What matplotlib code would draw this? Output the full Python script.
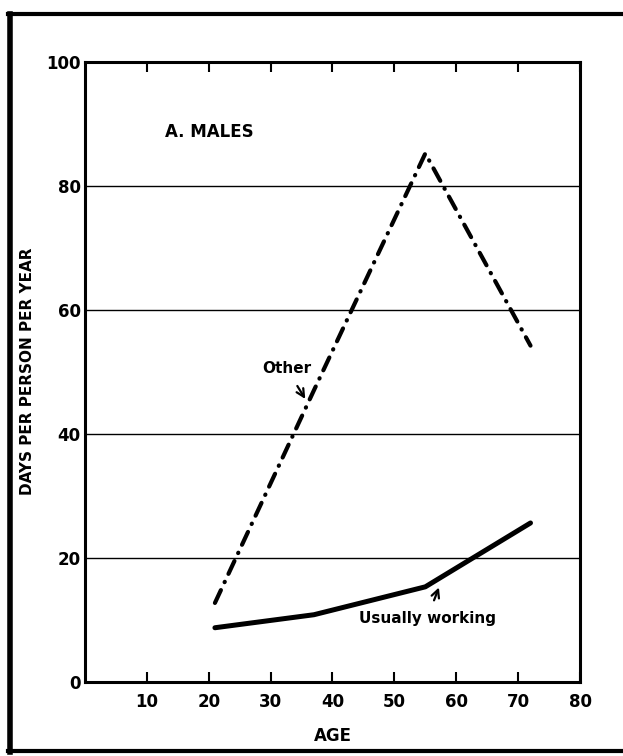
import matplotlib.pyplot as plt
from matplotlib.lines import Line2D

ages = [21, 37, 55, 72]
other = [12.7, 47, 85.2, 54.2]
working = [8.7, 10.8, 15.3, 25.6]

x_ticks = [10, 20, 30, 40, 50, 60, 70, 80]
y_ticks = [0, 20, 40, 60, 80, 100]

plt.rcParams['font.family'] = 'DejaVu Sans'
plt.rcParams['font.weight'] = 'bold'
plt.rcParams['axes.labelweight'] = 'bold'

fig = plt.figure(figsize=(6.23, 7.56), dpi=100)
ax = fig.add_axes([0.1364, 0.0983, 0.7946, 0.8201])

for y in [20, 40, 60, 80]:
    ax.axhline(y, color='black', linewidth=1.0, zorder=1)

ax.plot(ages, other, color='black', linewidth=3.0, dashes=(3.4, 2.1, 0.1, 2.1),
        dash_capstyle='round', zorder=3)
ax.plot(ages, working, color='black', linewidth=3.6, solid_capstyle='round',
        solid_joinstyle='round', zorder=3)

ax.set_xlim(0, 80)
ax.set_ylim(0, 100)
ax.set_xticks(x_ticks)
ax.set_xticklabels([str(t) for t in x_ticks])
ax.set_yticks(y_ticks)
ax.set_yticklabels([str(t) for t in y_ticks])
ax.tick_params(axis='x', direction='in', length=7, width=1.5, top=True,
               labelsize=12, pad=8)
ax.tick_params(axis='y', length=0, labelsize=12, pad=3)
for s in ax.spines.values():
    s.set_linewidth(2.2)

ax.set_xlabel('AGE', fontsize=12, labelpad=12)
ax.set_ylabel('DAYS PER PERSON PER YEAR', fontsize=11, labelpad=8)

ax.text(13, 88.6, 'A. MALES', fontsize=12, va='center', ha='left')
ax.annotate('Other', xy=(35.6, 45.6), xytext=(32.6, 50.5), fontsize=11,
            ha='center', va='center',
            arrowprops=dict(arrowstyle='->', color='black', lw=1.6,
                            shrinkA=6, shrinkB=0, mutation_scale=14))
ax.annotate('Usually working', xy=(57.2, 15.2), xytext=(55.3, 10.2), fontsize=11,
            ha='center', va='center',
            arrowprops=dict(arrowstyle='->', color='black', lw=1.6,
                            shrinkA=6, shrinkB=0, mutation_scale=14))

# frame drawn round the figure (left, top, bottom)
W, H = 623, 756
fig.add_artist(Line2D([10 / W, 10 / W], [4 / H, 742 / H], color='black', lw=4,
                      transform=fig.transFigure))
fig.add_artist(Line2D([8 / W, 1.0], [742 / H, 742 / H], color='black', lw=3,
                      transform=fig.transFigure))
fig.add_artist(Line2D([8 / W, 1.0], [5 / H, 5 / H], color='black', lw=3,
                      transform=fig.transFigure))

fig.savefig('out.png', dpi=100)
